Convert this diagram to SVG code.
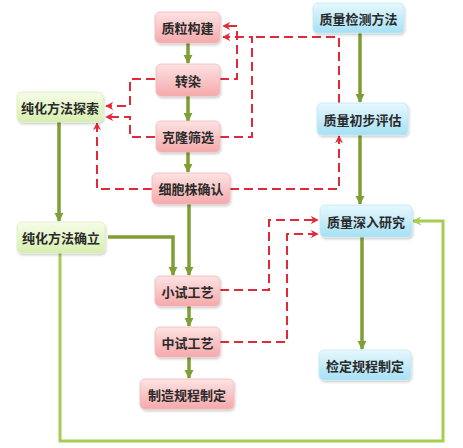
<svg xmlns="http://www.w3.org/2000/svg" width="463" height="448" viewBox="0 0 463 448">
<defs>
<linearGradient id="gp" x1="0" y1="0" x2="0" y2="1"><stop offset="0" stop-color="#fde3e3"/><stop offset="1" stop-color="#f5a9ab"/></linearGradient>
<linearGradient id="gg" x1="0" y1="0" x2="0" y2="1"><stop offset="0" stop-color="#f6fce8"/><stop offset="1" stop-color="#d7efae"/></linearGradient>
<linearGradient id="gb" x1="0" y1="0" x2="0" y2="1"><stop offset="0" stop-color="#e6f8fd"/><stop offset="1" stop-color="#a6e0f4"/></linearGradient>
<filter id="sh" x="-10%" y="-10%" width="130%" height="140%"><feDropShadow dx="1" dy="2" stdDeviation="1.2" flood-color="#000" flood-opacity="0.18"/></filter>
<marker id="ag" viewBox="0 0 10 10" refX="9" refY="5" markerWidth="2.6" markerHeight="2.6" orient="auto" markerUnits="strokeWidth"><path d="M0,0 L10,5 L0,10 z" fill="#7f9e35"/></marker>
<marker id="ar" viewBox="0 0 10 10" refX="9" refY="5" markerWidth="4" markerHeight="4" orient="auto" markerUnits="strokeWidth"><path d="M0,0 L10,5 L0,10 L3,5 z" fill="#e02a3a"/></marker>
<marker id="al" viewBox="0 0 10 10" refX="9" refY="5" markerWidth="3" markerHeight="3" orient="auto" markerUnits="strokeWidth"><path d="M0,0 L10,5 L0,10 L3,5 z" fill="#a6cc52"/></marker>
</defs>
<style>
.p{fill:url(#gp);stroke:#f2b7b8;stroke-width:0.8;filter:url(#sh)}
.g{fill:url(#gg);stroke:#dcefc0;stroke-width:0.8;filter:url(#sh)}
.b{fill:url(#gb);stroke:#bfe8f6;stroke-width:0.8;filter:url(#sh)}
text{font-family:"Noto Sans CJK SC","Noto Sans",sans-serif;font-size:13px;font-weight:bold;fill:#2a2a2a;text-anchor:middle;dominant-baseline:central}
.gl{fill:none;stroke:#7f9e35;stroke-width:3.5;marker-end:url(#ag)}
.lp{fill:none;stroke:#a6cc52;stroke-width:3;marker-end:url(#al)}
.rd{fill:none;stroke:#e02a3a;stroke-width:2;stroke-dasharray:9 5;marker-end:url(#ar)}
.rn{fill:none;stroke:#e02a3a;stroke-width:2;stroke-dasharray:9 5}
</style>
<rect width="463" height="448" fill="#fff"/>
<g id="connectors">
<path class="gl" d="M188,43 V63"/>
<path class="gl" d="M188,96 V121"/>
<path class="gl" d="M188,152 V172"/>
<path class="gl" d="M189,204 V275"/>
<path class="gl" d="M108,237 H173 V275"/>
<path class="gl" d="M59,122 V221"/>
<path class="gl" d="M189,306 V326"/>
<path class="gl" d="M189,357 V378"/>
<path class="gl" d="M360,33 V102"/>
<path class="gl" d="M360,135 V204"/>
<path class="gl" d="M362,237 V349"/>
<path class="lp" d="M60,253 V441 H443 V221 H413"/>
<path class="rd" d="M220,79 H237 V26 H223"/>
<path class="rd" d="M220,137 H252 V37 H223"/>
<path class="rn" d="M339,103 V37 H252"/>
<path class="rd" d="M230,189 H339 V136"/>
<path class="rd" d="M155,79 H130 V106 H106"/>
<path class="rd" d="M155,137 H130 V117 H106"/>
<path class="rd" d="M152,189 H97 V123"/>
<path class="rd" d="M220,290 H269 V220 H318"/>
<path class="rd" d="M220,342 H287 V234 H318"/>
</g>
<g id="n1"><rect class="p" x="155" y="12" width="65" height="31" rx="5"/><text x="187.5" y="27.5">质粒构建</text></g>
<g id="n2"><rect class="p" x="156" y="64" width="64" height="32" rx="5"/><text x="188" y="80">转染</text></g>
<g id="n3"><rect class="p" x="156" y="121" width="64" height="31" rx="5"/><text x="188" y="136.5">克隆筛选</text></g>
<g id="n4"><rect class="p" x="152" y="173" width="78" height="31" rx="5"/><text x="191" y="188.5">细胞株确认</text></g>
<g id="n5"><rect class="p" x="155" y="276" width="65" height="30" rx="5"/><text x="187.5" y="291">小试工艺</text></g>
<g id="n6"><rect class="p" x="155" y="327" width="65" height="30" rx="5"/><text x="187.5" y="342">中试工艺</text></g>
<g id="n7"><rect class="p" x="140" y="379" width="94" height="30" rx="5"/><text x="187" y="394">制造规程制定</text></g>
<g id="n8"><rect class="g" x="17" y="92" width="86" height="30" rx="5"/><text x="60" y="107">纯化方法探索</text></g>
<g id="n9"><rect class="g" x="17" y="222" width="88" height="31" rx="5"/><text x="61" y="237.5">纯化方法确立</text></g>
<g id="n10"><rect class="b" x="313" y="3" width="91" height="30" rx="5"/><text x="358.5" y="18">质量检测方法</text></g>
<g id="n11"><rect class="b" x="317" y="103" width="91" height="32" rx="5"/><text x="362.5" y="119">质量初步评估</text></g>
<g id="n12"><rect class="b" x="320" y="205" width="92" height="32" rx="5"/><text x="366" y="221">质量深入研究</text></g>
<g id="n13"><rect class="b" x="319" y="350" width="92" height="30" rx="5"/><text x="365" y="365">检定规程制定</text></g>
</svg>
